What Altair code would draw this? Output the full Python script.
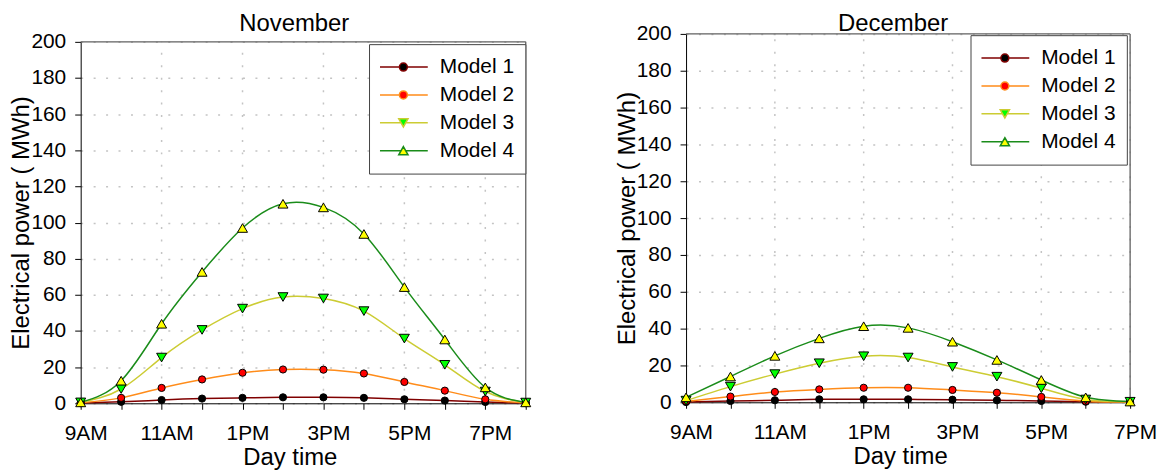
import altair as alt
import pandas as pd

models = ["Model 1", "Model 2", "Model 3", "Model 4"]

nov_hours = [9, 10, 11, 12, 13, 14, 15, 16, 17, 18, 19, 20]
nov_m1 = [0.1, 0.8, 1.8, 2.6, 3.0, 3.3, 3.3, 3.0, 2.2, 1.5, 0.7, 0.1]
nov_m2 = [0.3, 3.0, 8.5, 13.2, 16.9, 18.7, 18.6, 16.5, 11.8, 7.0, 2.2, 0.2]
nov_m3 = [0.5, 7.9, 25.3, 40.6, 52.4, 58.8, 58.0, 51.0, 35.8, 21.3, 6.5, 0.4]
nov_m4 = [0.5, 12.5, 44.0, 72.7, 97.0, 110.4, 108.4, 93.7, 64.3, 35.3, 8.8, 0.5]

dec_hours = [9, 10, 11, 12, 13, 14, 15, 16, 17, 18, 19]
dec_m1 = [0.1, 0.7, 1.1, 1.6, 1.6, 1.6, 1.4, 1.1, 0.7, 0.3, 0.1]
dec_m2 = [0.5, 3.1, 5.6, 7.0, 7.9, 7.9, 6.7, 5.2, 2.9, 0.6, 0.1]
dec_m3 = [0.9, 8.5, 15.3, 21.2, 25.0, 24.3, 19.2, 13.9, 7.6, 1.5, 0.3]
dec_m4 = [2.7, 14.0, 25.2, 34.7, 41.3, 40.4, 32.9, 23.0, 12.1, 2.7, 0.4]

tick_hours = [9, 11, 13, 15, 17, 19]
tick_labels = ["9AM", "11AM", "1PM", "3PM", "5PM", "7PM"]
y_ticks = [0, 20, 40, 60, 80, 100, 120, 140, 160, 180, 200]
y_domain = [0, 200]

line_colors = ["#800000", "#FF8C1A", "#CCCC33", "#1A8C1A"]
marker_fills = ["#000000", "#FF0000", "#00FF00", "#FFFF00"]
marker_shapes = ["circle", "circle", "triangle-down", "triangle-up"]
marker_sizes = [52, 52, 100, 100]

# legend glyphs: a short line with the marker in the middle (unit box -1..1)
_circle = ("M-1,0L-0.163,0M0.163,0L1,0"
           "M0.163,0A0.163,0.163,0,1,1,-0.163,0A0.163,0.163,0,1,1,0.163,0Z")
_tri_down = "M-1,0L-0.095,0M0.095,0L1,0M-0.19,-0.167L0.19,-0.167L0,0.167Z"
_tri_up = "M-1,0L-0.095,0M0.095,0L1,0M0,-0.167L0.19,0.167L-0.19,0.167Z"
legend_shapes = [_circle, _circle, _tri_down, _tri_up]

FONT = "Liberation Sans"
GRID_COLOR = "#c4c4c4"
GRID_DASH = [2, 10.5]
FRAME_COLOR = "#606060"

label_expr = " : ".join(
    f"datum.value == {h} ? '{l}'" for h, l in zip(tick_hours, tick_labels)
) + " : ''"


def long_df(hours, series):
    rows = []
    for m, vals in zip(models, series):
        for h, v in zip(hours, vals):
            rows.append({"hour": h, "power": v, "model": m})
    return pd.DataFrame(rows)


def panel(hours, series, title, title_dx, title_offset, title_x, legend_x,
          legend_y, width, height, y_range):
    df = long_df(hours, series)
    x_scale = alt.Scale(domain=[hours[0], hours[-1]], nice=False, zero=False)
    y_scale = alt.Scale(domain=y_domain, range=y_range, nice=False)
    x_axis = alt.Axis(values=hours, labelExpr=label_expr, grid=False,
                      tickSize=6, labelPadding=13, labelOffset=5,
                      labelFlush=False, labelOverlap=False,
                      title="Day time", titlePadding=2, titleX=title_x)
    y_axis = alt.Axis(values=y_ticks, grid=True, gridDash=GRID_DASH,
                      gridColor=GRID_COLOR, gridWidth=1.5, tickSize=6,
                      labelPadding=9, title="Electrical power ( MWh)",
                      titlePadding=-3)
    x_enc = alt.X("hour:Q", scale=x_scale, axis=x_axis)

    # vertical dotted grid at labelled hours
    vg = pd.DataFrame({"hour": [h for h in tick_hours if hours[0] < h <= hours[-1]]})
    vg["lo"] = y_domain[0]
    vg["hi"] = y_domain[1]
    vgrid = alt.Chart(vg).mark_rule(
        color=GRID_COLOR, strokeDash=GRID_DASH, strokeWidth=1.5
    ).encode(
        x=x_enc,
        y=alt.Y("lo:Q", scale=y_scale, axis=y_axis),
        y2="hi:Q",
    )

    # top and right frame
    fr = pd.DataFrame({
        "hour": [hours[0], hours[-1]],
        "hour2": [hours[-1], hours[-1]],
        "lo": [y_domain[1], y_domain[0]],
        "hi": [y_domain[1], y_domain[1]],
    })
    frame = alt.Chart(fr).mark_rule(color=FRAME_COLOR, strokeWidth=1.3).encode(
        x=x_enc,
        x2="hour2:Q",
        y=alt.Y("lo:Q", scale=y_scale, axis=y_axis),
        y2="hi:Q",
    )

    legend = alt.Legend(
        orient="none", legendX=legend_x, legendY=legend_y, title=None,
        symbolSize=2401, symbolStrokeWidth=1.5,
        clipHeight=24, rowPadding=4, padding=11, symbolOffset=-2,
        labelOffset=11, labelFont=FONT, labelFontSize=21, labelColor="black",
        strokeColor="#444444", fillColor="white",
    )

    y_enc = alt.Y("power:Q", scale=y_scale, axis=y_axis)
    lines = alt.Chart(df).mark_line(interpolate="natural", strokeWidth=1.5).encode(
        x=x_enc, y=y_enc,
        color=alt.Color("model:N", scale=alt.Scale(domain=models, range=line_colors),
                        legend=legend),
    )
    # legend carrier: supplies marker fill/shape to the same (merged) legend, draws nothing
    carrier = alt.Chart(df).transform_filter("false").mark_point(
        filled=True, opacity=1
    ).encode(
        x=x_enc, y=y_enc,
        fill=alt.Fill("model:N", scale=alt.Scale(domain=models, range=marker_fills),
                      legend=legend),
        shape=alt.Shape("model:N", scale=alt.Scale(domain=models, range=legend_shapes),
                        legend=legend),
    )
    point_layers = [
        alt.Chart(df).transform_filter(alt.datum.model == m).mark_point(
            filled=True, fill=f, shape=s, size=sz, stroke="black",
            strokeWidth=1, opacity=1,
        ).encode(x=x_enc, y=y_enc)
        for m, f, s, sz in zip(models, marker_fills, marker_shapes, marker_sizes)
    ]

    return alt.layer(vgrid, frame, lines, carrier, *point_layers).properties(
        width=width, height=height,
        title=alt.TitleParams(title, dx=title_dx, fontSize=24, font=FONT,
                              fontWeight="normal", color="black",
                              offset=title_offset),
    )


left = panel(nov_hours, [nov_m1, nov_m2, nov_m3, nov_m4], "November",
             title_dx=-9, title_offset=-5, title_x=210, legend_x=289.6,
             legend_y=10.3, width=447, height=371, y_range=[371, 8])
right = panel(dec_hours, [dec_m1, dec_m2, dec_m3, dec_m4], "December",
              title_dx=-15, title_offset=-13.5, title_x=215, legend_x=285.7,
              legend_y=1.3, width=446, height=370, y_range=[370, 0])

chart = alt.hconcat(left, right, spacing=81).resolve_scale(
    x="independent", y="independent", color="independent",
    fill="independent", shape="independent",
).resolve_legend(
    color="independent", fill="independent", shape="independent",
).properties(
    padding={"left": 1, "top": 2, "right": 0, "bottom": 0},
    background="white",
).configure_view(
    stroke="transparent",
).configure_axis(
    labelFont=FONT, titleFont=FONT, labelFontSize=21, titleFontSize=24,
    titleFontWeight="normal", labelColor="black", titleColor="black",
    domainColor="black", tickColor="black", domainWidth=1, tickWidth=1,
)

chart.save("out.html", embed_options={"renderer": "svg", "actions": False})
